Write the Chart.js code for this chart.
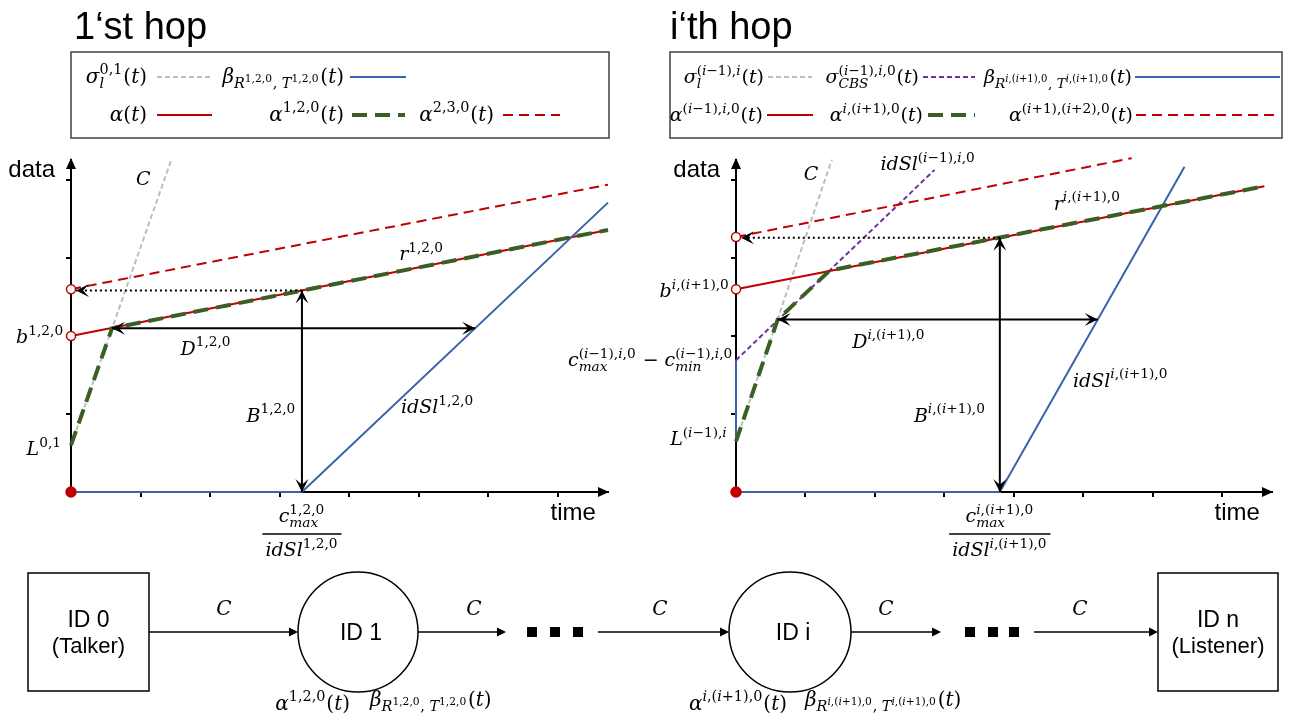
<!DOCTYPE html>
<html lang="en">
<head>
<meta charset="UTF-8">
<title>Hop arrival / service curves</title>
<style>
    body { margin: 0; background: #fff; }
    .page { position: relative; width: 1293px; height: 720px; }
    .page canvas { position: absolute; left: 0; top: 0; }
</style>
<script src="https://cdn.jsdelivr.net/npm/chart.js"></script>
</head>
<body>
<div class="page">
    <canvas id="hop1" width="1293" height="720"></canvas>
    <canvas id="hopI" width="1293" height="720"></canvas>
</div>
<script>
    // tick marks on both axes (no labels, just marks)
    const axisTicksX = [1, 2, 3, 4, 5, 6, 7];
    const axisTicksY = [1, 2, 3, 4];

    // 1'st hop curves, [time, data]
    const h1Sigma   = [[0, 0.60], [1.45, 4.28]];
    const h1Beta    = [[0, 0], [3.32, 0], [7.72, 3.71]];
    const h1Alpha   = [[0, 2.00], [7.72, 3.36]];
    const h1Alpha12 = [[0, 0.60], [0.59, 2.10], [7.72, 3.36]];
    const h1Alpha23 = [[0, 2.60], [7.72, 3.94]];
    const h1Bursts  = [[0, 2.00], [0, 2.60]];

    // i'th hop curves
    const hiSigma     = [[0, 0.65], [1.38, 4.26]];
    const hiCbs       = [[0, 1.69], [2.86, 4.13]];
    const hiBeta      = [[0, 0], [3.80, 0], [6.46, 4.17]];
    const hiBetaJump  = [[0, 0.65], [0, 1.69]];
    const hiAlpha     = [[0, 2.60], [7.61, 3.92]];
    const hiAlphaNext = [[0, 0.65], [0.60, 2.21], [1.35, 2.84], [7.61, 3.92]];
    const hiAlpha2    = [[0, 3.27], [5.70, 4.28]];
    const hiBursts    = [[0, 2.60], [0, 3.27]];

    const origin = [[0, 0]];

    // ---------------------------------------------------------------
    const RED = '#c00000', GREEN = '#3b5e25', BLUE = '#3a62ab', GRAY = '#bdbdbd', PURPLE = '#7030a0';
    const MATH = '"DejaVu Serif", serif';
    const SANS = '"Liberation Sans", Arial, sans-serif';
    const TOP = 160, BOTTOM = 492, X_MAX = 7.72, Y_MAX = (BOTTOM - TOP) / 78;

    const STY = {
        gray:    { color: GRAY, width: 2, dash: [5, 3] },
        purple:  { color: PURPLE, width: 2, dash: [5, 3] },
        blue:    { color: BLUE, width: 2, dash: [] },
        red:     { color: RED, width: 2, dash: [] },
        redDash: { color: RED, width: 2, dash: [10, 6] },
        green:   { color: GREEN, width: 4, dash: [15, 8] }
    };

    function toXY(pts) { return pts.map(p => ({x: p[0], y: p[1]})); }

    function curve(pts, sty, order) {
        return {
            data: toXY(pts), borderColor: sty.color, borderWidth: sty.width, borderDash: sty.dash,
            pointRadius: 0, tension: 0, fill: false, clip: false, order: order
        };
    }

    function marks(pts, fill, radius) {
        return {
            data: toXY(pts), showLine: false, pointRadius: radius, pointBackgroundColor: fill,
            pointBorderColor: RED, pointBorderWidth: 1.5, clip: false, order: 0
        };
    }

    // linear interpolation along a polyline (for annotation arrows)
    function yAt(pts, x) {
        for (let k = 1; k < pts.length; k++) {
            const a = pts[k - 1], b = pts[k];
            if (b[0] > a[0] && x >= a[0] && x <= b[0]) return a[1] + (b[1] - a[1]) * (x - a[0]) / (b[0] - a[0]);
        }
        return pts[pts.length - 1][1];
    }
    function xAt(pts, y) {
        for (let k = 1; k < pts.length; k++) {
            const a = pts[k - 1], b = pts[k];
            if (b[1] !== a[1] && b[0] !== a[0] && y >= Math.min(a[1], b[1]) && y <= Math.max(a[1], b[1]))
                return a[0] + (b[0] - a[0]) * (y - a[1]) / (b[1] - a[1]);
        }
        return pts[pts.length - 1][0];
    }

    // --- tiny math text renderer: _ and ^ with {} groups ---
    function parseTex(s) {
        let i = 0;
        function atom() {
            if (s[i] === '{') { i++; const g = group(); i++; return g; }
            return [{k: 'c', c: s[i++]}];
        }
        function group() {
            const out = [];
            while (i < s.length && s[i] !== '}') {
                const c = s[i];
                if (c === '_' || c === '^') {
                    i++;
                    const arg = atom();
                    let last = out[out.length - 1];
                    if (!last || last.k !== 's') { last = {k: 's'}; out.push(last); }
                    last[c === '_' ? 'sub' : 'sup'] = arg;
                } else { out.push({k: 'c', c: c}); i++; }
            }
            return out;
        }
        return group();
    }
    function isLetter(c) { return /[A-Za-z\u0370-\u03ff]/.test(c); }
    function texRun(ctx, nodes, x, y, size, draw, lvl) {
        lvl = lvl || 0;
        let cx = x;
        for (const n of nodes) {
            if (n.k === 'c') {
                ctx.font = (isLetter(n.c) ? 'italic ' : '') + size.toFixed(1) + 'px ' + MATH;
                if (draw) ctx.fillText(n.c, cx, y);
                cx += ctx.measureText(n.c).width;
            } else {
                const ss = size * (lvl === 0 ? 0.72 : 0.74);
                let w = 0;
                if (n.sup) w = Math.max(w, texRun(ctx, n.sup, cx, y - size * 0.44, ss, draw, lvl + 1) - cx);
                if (n.sub) w = Math.max(w, texRun(ctx, n.sub, cx, y + size * 0.26, ss, draw, lvl + 1) - cx);
                cx += w + size * 0.05;
            }
        }
        return cx;
    }
    function mathText(ctx, s, x, y, size, align) {
        const nodes = parseTex(s);
        const w = texRun(ctx, nodes, 0, 0, size, false);
        const x0 = align === 'right' ? x - w : align === 'center' ? x - w / 2 : x;
        ctx.save();
        ctx.fillStyle = '#000';
        ctx.textAlign = 'left';
        ctx.textBaseline = 'alphabetic';
        texRun(ctx, nodes, x0, y, size, true);
        ctx.restore();
        return w;
    }
    function texWidth(ctx, s, size) { return texRun(ctx, parseTex(s), 0, 0, size, false); }

    function sansText(ctx, s, x, y, size, align) {
        ctx.save();
        ctx.font = size + 'px ' + SANS;
        ctx.fillStyle = '#000';
        ctx.textAlign = align || 'left';
        ctx.textBaseline = 'alphabetic';
        ctx.fillText(s, x, y);
        ctx.restore();
    }

    // notched arrow head, tip at (x,y), pointing along angle
    function stealth(ctx, x, y, ang, len, half) {
        const dx = Math.cos(ang), dy = Math.sin(ang);
        ctx.beginPath();
        ctx.moveTo(x, y);
        ctx.lineTo(x - len * dx - half * dy, y - len * dy + half * dx);
        ctx.lineTo(x - len * 0.55 * dx, y - len * 0.55 * dy);
        ctx.lineTo(x - len * dx + half * dy, y - len * dy - half * dx);
        ctx.closePath();
        ctx.fill();
    }
    function arrowLine(ctx, x1, y1, x2, y2, headStart, headEnd, dash) {
        ctx.save();
        ctx.strokeStyle = '#000';
        ctx.fillStyle = '#000';
        ctx.lineWidth = 2;
        ctx.setLineDash(dash || []);
        ctx.beginPath();
        ctx.moveTo(x1, y1);
        ctx.lineTo(x2, y2);
        ctx.stroke();
        ctx.setLineDash([]);
        const ang = Math.atan2(y2 - y1, x2 - x1);
        if (headEnd) stealth(ctx, x2, y2, ang, 13, 6.5);
        if (headStart) stealth(ctx, x1, y1, ang + Math.PI, 13, 6.5);
        ctx.restore();
    }

    function sample(ctx, x1, x2, y, sty) {
        ctx.save();
        ctx.strokeStyle = sty.color;
        ctx.lineWidth = sty.width;
        ctx.setLineDash(sty.dash);
        ctx.beginPath();
        ctx.moveTo(x1, y);
        ctx.lineTo(x2, y);
        ctx.stroke();
        ctx.restore();
    }

    function drawLegend(ctx, lg) {
        const [x1, y1, x2, y2] = lg.box;
        ctx.save();
        ctx.strokeStyle = '#404040';
        ctx.lineWidth = 1.5;
        ctx.strokeRect(x1, y1, x2 - x1, y2 - y1);
        ctx.restore();
        lg.items.forEach(it => {
            mathText(ctx, it.t, it.te, it.y + 6, lg.size, 'right');
            sample(ctx, it.x1, it.x2, it.y, it.s);
        });
    }

    function drawFraction(ctx, num, den, cx, yAxis) {
        const size = 19;
        const w = Math.max(texWidth(ctx, num, size), texWidth(ctx, den, size)) + 6;
        mathText(ctx, num, cx, yAxis + 30, size, 'center');
        ctx.save();
        ctx.strokeStyle = '#000';
        ctx.lineWidth = 1.5;
        ctx.beginPath();
        ctx.moveTo(cx - w / 2, yAxis + 42);
        ctx.lineTo(cx + w / 2, yAxis + 42);
        ctx.stroke();
        ctx.restore();
        mathText(ctx, den, cx, yAxis + 64, size, 'center');
    }

    // bottom network sketch
    const net = {
        y: 632,
        boxes: [
            {x1: 28, x2: 149, top: 573, bot: 691, lines: ['ID 0', '(Talker)']},
            {x1: 1158, x2: 1278, top: 573, bot: 691, lines: ['ID n', '(Listener)']}
        ],
        nodes: [
            {cx: 358, r: 60, label: 'ID 1', alpha: 'α^{1,2,0}(t)', beta: 'β_{R^{1,2,0}, T^{1,2,0}}(t)', ae: 350, bs: 370},
            {cx: 790, r: 61, label: 'ID i', alpha: 'α^{i,(i+1),0}(t)', beta: 'β_{R^{i,(i+1),0}, T^{i,(i+1),0}}(t)', ae: 787, bs: 805}
        ],
        links: [[149, 298], [418, 506], [598, 729], [851, 941], [1034, 1158]],
        cLabels: [224, 474, 660, 886, 1080],
        dots: [532, 555, 578, 970, 993, 1014]
    };

    function drawNetwork(ctx) {
        ctx.save();
        ctx.strokeStyle = '#000';
        ctx.fillStyle = '#000';
        ctx.lineWidth = 1.5;
        net.boxes.forEach(b => {
            ctx.strokeRect(b.x1, b.top, b.x2 - b.x1, b.bot - b.top);
            const cx = (b.x1 + b.x2) / 2;
            sansText(ctx, b.lines[0], cx, net.y - 5, 23, 'center');
            sansText(ctx, b.lines[1], cx, net.y + 21, 22, 'center');
        });
        net.nodes.forEach(n => {
            ctx.beginPath();
            ctx.ellipse(n.cx, net.y, n.r, 60, 0, 0, Math.PI * 2);
            ctx.stroke();
            sansText(ctx, n.label, n.cx + 3, net.y + 8, 23, 'center');
            mathText(ctx, n.alpha, n.ae, 710, 20, 'right');
            mathText(ctx, n.beta, n.bs, 706, 20, 'left');
        });
        net.links.forEach(l => {
            ctx.beginPath();
            ctx.moveTo(l[0], net.y);
            ctx.lineTo(l[1] - 6, net.y);
            ctx.stroke();
            ctx.beginPath();
            ctx.moveTo(l[1], net.y);
            ctx.lineTo(l[1] - 9, net.y - 4.5);
            ctx.lineTo(l[1] - 9, net.y + 4.5);
            ctx.closePath();
            ctx.fill();
        });
        net.cLabels.forEach(x => mathText(ctx, 'C', x, 615, 20, 'center'));
        net.dots.forEach(x => ctx.fillRect(x - 5, net.y - 5, 10, 10));
        ctx.restore();
    }

    function decor(cfg) {
        return {
            id: 'decor',
            afterDatasetsDraw(chart) {
                const {ctx, chartArea: a, scales: {x, y}} = chart;
                const px = v => x.getPixelForValue(v), py = v => y.getPixelForValue(v);

                // axis arrow heads
                ctx.save();
                ctx.fillStyle = '#000';
                ctx.beginPath();
                ctx.moveTo(a.right + 1, a.bottom);
                ctx.lineTo(a.right - 10, a.bottom - 5);
                ctx.lineTo(a.right - 10, a.bottom + 5);
                ctx.closePath();
                ctx.fill();
                ctx.beginPath();
                ctx.moveTo(a.left, a.top - 2);
                ctx.lineTo(a.left - 5, a.top + 9);
                ctx.lineTo(a.left + 5, a.top + 9);
                ctx.closePath();
                ctx.fill();
                ctx.restore();

                // delay D, backlog B and the dotted burst projection
                const knee = cfg.knee;
                const dEnd = xAt(cfg.beta, knee[1]);
                arrowLine(ctx, px(knee[0]), py(knee[1]), px(dEnd), py(knee[1]), true, true);
                const bx = cfg.beta[1][0];
                const by = yAt(cfg.alpha, bx);
                arrowLine(ctx, px(bx), py(by), px(bx), py(0), true, true);
                arrowLine(ctx, px(bx), py(by), px(0) + 5, py(by), false, true, [2, 3]);

                // labels
                cfg.labels.forEach(l => mathText(ctx, l.t, px(l.x), py(l.y), 19, l.a));
                drawFraction(ctx, cfg.frac[0], cfg.frac[1], px(bx), a.bottom);
                sansText(ctx, 'data', px(-0.23), py(4.04), 24, 'right');
                sansText(ctx, 'time', px(cfg.timeX), a.bottom + 28, 24, 'center');

                // title + legend box
                sansText(ctx, cfg.title, cfg.titleX, 39, 38, 'left');
                drawLegend(ctx, cfg.legend);
                if (cfg.network) drawNetwork(ctx);
            }
        };
    }

    function hopChart(id, cfg) {
        const tickGrid = {drawOnChartArea: false, drawTicks: true, tickLength: 5, color: '#000', lineWidth: 2};
        return new Chart(document.getElementById(id), {
            type: 'line',
            data: {datasets: cfg.datasets},
            options: {
                responsive: false,
                animation: false,
                events: [],
                layout: {padding: {left: cfg.left - 6, right: 1293 - cfg.right, top: TOP, bottom: 720 - BOTTOM - 6}},
                plugins: {legend: {display: false}, tooltip: {enabled: false}},
                scales: {
                    x: {
                        type: 'linear', min: 0, max: X_MAX,
                        afterBuildTicks: s => { s.ticks = axisTicksX.map(v => ({value: v})); },
                        afterFit: s => { s.height = 6; },
                        ticks: {display: false},
                        grid: tickGrid,
                        border: {color: '#000', width: 2}
                    },
                    y: {
                        type: 'linear', min: 0, max: Y_MAX,
                        afterBuildTicks: s => { s.ticks = axisTicksY.map(v => ({value: v})); },
                        afterFit: s => { s.width = 6; },
                        ticks: {display: false},
                        grid: tickGrid,
                        border: {color: '#000', width: 2}
                    }
                }
            },
            plugins: [decor(cfg)]
        });
    }

    hopChart('hop1', {
        left: 71, right: 608,
        title: '1\u2018st hop', titleX: 74,
        datasets: [
            marks(h1Bursts, '#fff', 4.5),
            marks(origin, RED, 5),
            curve(h1Alpha12, STY.green, 1),
            curve(h1Beta, STY.blue, 2),
            curve(h1Alpha, STY.red, 3),
            curve(h1Alpha23, STY.redDash, 3),
            curve(h1Sigma, STY.gray, 5)
        ],
        alpha: h1Alpha, beta: h1Beta, knee: h1Alpha12[1],
        labels: [
            {t: 'C', x: 1.04, y: 3.94, a: 'center'},
            {t: 'r^{1,2,0}', x: 5.04, y: 2.97, a: 'center'},
            {t: 'b^{1,2,0}', x: -0.10, y: 1.91, a: 'right'},
            {t: 'D^{1,2,0}', x: 1.94, y: 1.76, a: 'center'},
            {t: 'B^{1,2,0}', x: 2.88, y: 0.90, a: 'center'},
            {t: 'idSl^{1,2,0}', x: 5.27, y: 1.01, a: 'center'},
            {t: 'L^{0,1}', x: -0.13, y: 0.47, a: 'right'}
        ],
        frac: ['c_{max}^{1,2,0}', 'idSl^{1,2,0}'],
        timeX: 7.22,
        legend: {
            box: [71, 52, 609, 138], size: 20,
            items: [
                {t: 'σ_{l}^{0,1}(t)', te: 147, y: 77, x1: 157, x2: 212, s: STY.gray},
                {t: 'β_{R^{1,2,0}, T^{1,2,0}}(t)', te: 344, y: 77, x1: 350, x2: 406, s: STY.blue},
                {t: 'α(t)', te: 147, y: 115, x1: 157, x2: 212, s: STY.red},
                {t: 'α^{1,2,0}(t)', te: 344, y: 115, x1: 352, x2: 405, s: STY.green},
                {t: 'α^{2,3,0}(t)', te: 494, y: 115, x1: 503, x2: 560, s: STY.redDash}
            ]
        },
        network: true
    });

    hopChart('hopI', {
        left: 736, right: 1272,
        title: 'i\u2018th hop', titleX: 670,
        datasets: [
            marks(hiBursts, '#fff', 4.5),
            marks(origin, RED, 5),
            curve(hiAlphaNext, STY.green, 1),
            curve(hiBeta, STY.blue, 2),
            curve(hiBetaJump, STY.blue, 2),
            curve(hiAlpha, STY.red, 3),
            curve(hiAlpha2, STY.redDash, 3),
            curve(hiCbs, STY.purple, 4),
            curve(hiSigma, STY.gray, 5)
        ],
        alpha: hiAlpha, beta: hiBeta, knee: hiAlphaNext[1],
        labels: [
            {t: 'C', x: 1.08, y: 4.00, a: 'center'},
            {t: 'idSl^{(i−1),i,0}', x: 2.08, y: 4.13, a: 'left'},
            {t: 'r^{i,(i+1),0}', x: 5.06, y: 3.62, a: 'center'},
            {t: 'b^{i,(i+1),0}', x: -0.09, y: 2.50, a: 'right'},
            {t: 'D^{i,(i+1),0}', x: 2.20, y: 1.85, a: 'center'},
            {t: 'c_{max}^{(i−1),i,0} − c_{min}^{(i−1),i,0}', x: -0.04, y: 1.61, a: 'right'},
            {t: 'idSl^{i,(i+1),0}', x: 5.54, y: 1.35, a: 'center'},
            {t: 'B^{i,(i+1),0}', x: 3.08, y: 0.90, a: 'center'},
            {t: 'L^{(i−1),i}', x: -0.12, y: 0.60, a: 'right'}
        ],
        frac: ['c_{max}^{i,(i+1),0}', 'idSl^{i,(i+1),0}'],
        timeX: 7.22,
        legend: {
            box: [670, 52, 1282, 138], size: 19,
            items: [
                {t: 'σ_{l}^{(i−1),i}(t)', te: 764, y: 77, x1: 768, x2: 812, s: STY.gray},
                {t: 'σ_{CBS}^{(i−1),i,0}(t)', te: 919, y: 77, x1: 923, x2: 975, s: STY.purple},
                {t: 'β_{R^{i,(i+1),0}, T^{i,(i+1),0}}(t)', te: 1132, y: 77, x1: 1135, x2: 1280, s: STY.blue},
                {t: 'α^{(i−1),i,0}(t)', te: 763, y: 115, x1: 767, x2: 813, s: STY.red},
                {t: 'α^{i,(i+1),0}(t)', te: 923, y: 115, x1: 928, x2: 975, s: STY.green},
                {t: 'α^{(i+1),(i+2),0}(t)', te: 1133, y: 115, x1: 1136, x2: 1280, s: STY.redDash}
            ]
        },
        network: false
    });
</script>
</body>
</html>
